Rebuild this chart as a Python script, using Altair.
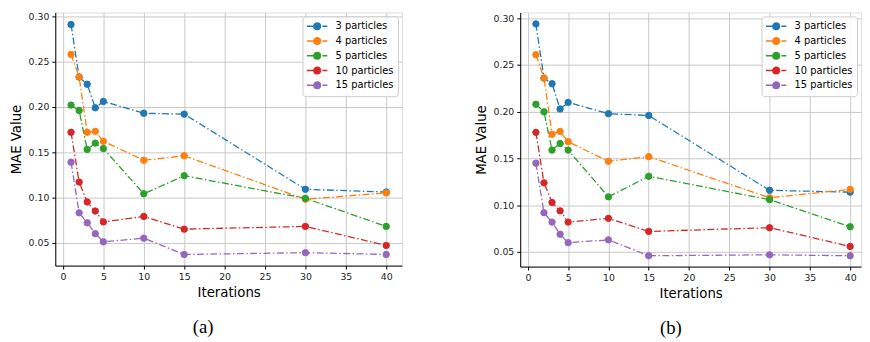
import altair as alt
import pandas as pd

iterations = [1, 2, 3, 4, 5, 10, 15, 30, 40]
series_names = ["3 particles", "4 particles", "5 particles", "10 particles", "15 particles"]
colors = ["#1f77b4", "#ff7f0e", "#2ca02c", "#d62728", "#9467bd"]

a_3 = [0.291, 0.233, 0.225, 0.199, 0.206, 0.193, 0.192, 0.109, 0.106]
a_4 = [0.258, 0.233, 0.172, 0.173, 0.162, 0.141, 0.146, 0.098, 0.105]
a_5 = [0.202, 0.196, 0.153, 0.160, 0.154, 0.104, 0.124, 0.099, 0.068]
a_10 = [0.172, 0.117, 0.095, 0.085, 0.073, 0.079, 0.065, 0.068, 0.047]
a_15 = [0.139, 0.083, 0.072, 0.060, 0.051, 0.055, 0.037, 0.039, 0.037]

b_3 = [0.294, 0.236, 0.230, 0.203, 0.210, 0.198, 0.196, 0.116, 0.114]
b_4 = [0.261, 0.236, 0.176, 0.179, 0.168, 0.147, 0.152, 0.108, 0.117]
b_5 = [0.208, 0.200, 0.159, 0.166, 0.159, 0.109, 0.131, 0.106, 0.077]
b_10 = [0.178, 0.124, 0.103, 0.094, 0.082, 0.086, 0.072, 0.076, 0.056]
b_15 = [0.145, 0.092, 0.082, 0.069, 0.060, 0.063, 0.046, 0.047, 0.046]

x_ticks = [0, 5, 10, 15, 20, 25, 30, 35, 40]
y_ticks = [0.05, 0.10, 0.15, 0.20, 0.25, 0.30]


def make_df(values):
    rows = []
    for si, (name, vals) in enumerate(zip(series_names, values)):
        for x, v in zip(iterations, vals):
            rows.append({"Iterations": x, "MAE": v, "series": name, "order": si})
    return pd.DataFrame(rows)


df_a = make_df([a_3, a_4, a_5, a_10, a_15])
df_b = make_df([b_3, b_4, b_5, b_10, b_15])

# legend handle: line segment, marker, short dash (in symbol units)
sym_path = ("M-1.16,0H0.5M2.15,0H3.2"
            "M0.327,0A0.696,0.696,0,1,0,1.719,0A0.696,0.696,0,1,0,0.327,0Z")

legend = alt.Legend(
    title=None, orient="top-right", offset=4, padding=4.5,
    symbolType=sym_path, symbolSize=90, symbolStrokeWidth=1.5,
    labelFont="DejaVu Sans", labelFontSize=10, labelColor="black",
    labelOffset=18, rowPadding=2,
    fillColor="rgba(255,255,255,0.85)", strokeColor="#cccccc",
    cornerRadius=3,
)
cscale = alt.Scale(domain=series_names, range=colors)


def axis_common(**kw):
    return alt.Axis(
        grid=True, gridColor="#c8c8c8", gridWidth=1,
        tickSize=3.5, tickColor="black", domainColor="black",
        labelFont="DejaVu Sans", labelFontSize=9.5, labelColor="#222222",
        labelPadding=3, titleFont="DejaVu Sans", titleFontSize=13.5,
        titleFontWeight="normal", titleColor="black", **kw)


def panel(df, label, xdom, ydom, w, h, dx):
    x = alt.X("Iterations:Q", scale=alt.Scale(domain=xdom, nice=False, zero=False),
              axis=axis_common(values=x_ticks, format="d", title="Iterations", titlePadding=4))
    y = alt.Y("MAE:Q", scale=alt.Scale(domain=ydom, nice=False, zero=False),
              axis=axis_common(values=y_ticks, format=".2f", title="MAE Value", titlePadding=5))
    base = alt.Chart(df)
    line = base.mark_line(strokeWidth=1.3, strokeDash=[7, 2.5, 1.5, 2.5]).encode(
        x=x, y=y,
        stroke=alt.Stroke("series:N", scale=cscale, legend=legend, sort=series_names),
        detail="series:N",
        order="Iterations:Q",
    )
    pts = base.mark_point(filled=True, size=42, opacity=1, strokeWidth=1).encode(
        x=x, y=y,
        fill=alt.Fill("series:N", scale=cscale, legend=legend, sort=series_names),
        stroke=alt.Stroke("series:N", scale=cscale, legend=legend, sort=series_names),
    )
    return alt.layer(line, pts).properties(
        width=w, height=h,
        title=alt.TitleParams(text=label, orient="bottom", anchor="middle", dx=dx,
                              offset=20, font="Liberation Serif", fontSize=19,
                              fontWeight="normal", color="black"),
    )


pa = panel(df_a, "(a)", [-0.95, 41.95], [0.0247, 0.3043], 352, 257, -26)
pb = panel(df_b, "(b)", [-0.95, 41.35], [0.0344, 0.3062], 346, 258, -20)

chart = alt.hconcat(pa, pb, spacing=71).resolve_scale(
    x="independent", y="independent", stroke="independent", fill="independent"
).resolve_legend(stroke="independent", fill="independent").properties(
    padding=0
).configure_view(stroke="black", strokeWidth=1).configure(background="white")

chart.save("out.html", embed_options={"renderer": "svg", "actions": False})
